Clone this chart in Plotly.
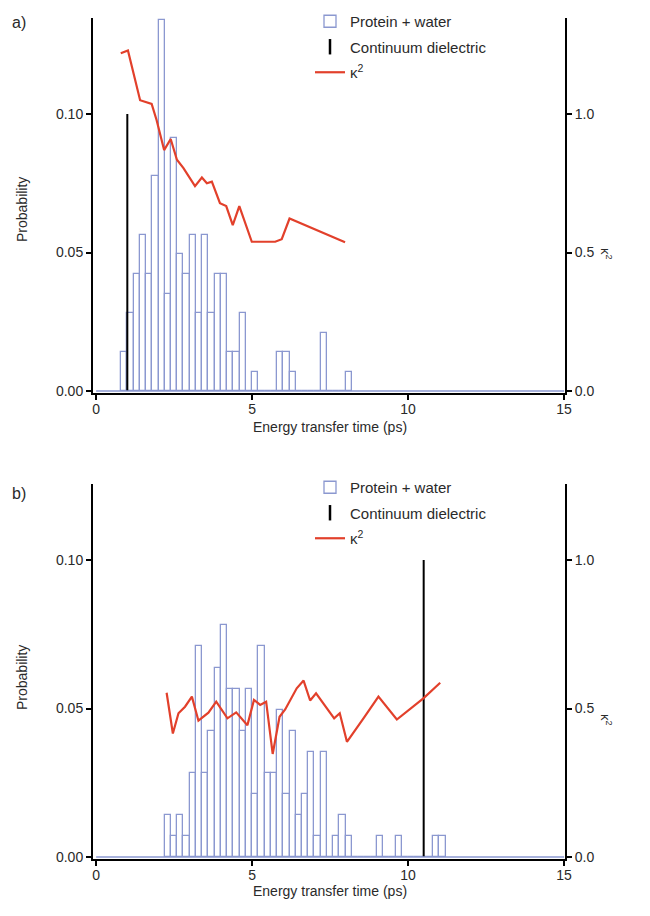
import plotly.graph_objects as go

# ---------------- data ----------------
# panel a: histogram (0.2 ps bins, left edges) and probabilities
bins_a = [0.8, 1.0, 1.2, 1.4, 1.6, 1.8, 2.0, 2.2, 2.4, 2.6, 2.8, 3.0, 3.2, 3.4, 3.6, 3.8,
          4.0, 4.2, 4.4, 4.6, 4.8, 5.0, 5.2, 5.4, 5.6, 5.8, 6.0, 6.2, 6.4, 6.6, 6.8, 7.0,
          7.2, 7.4, 7.6, 7.8, 8.0]
prob_a = [0.0141, 0.0282, 0.0423, 0.0563, 0.0423, 0.0775, 0.1340, 0.0352, 0.0915, 0.0493,
          0.0423, 0.0563, 0.0282, 0.0563, 0.0282, 0.0423, 0.0423, 0.0141, 0.0141, 0.0282,
          0.0, 0.0070, 0.0, 0.0, 0.0, 0.0141, 0.0141, 0.0070, 0.0, 0.0, 0.0, 0.0,
          0.0211, 0.0, 0.0, 0.0, 0.0070]
cont_a_x = 1.0
cont_a_p = 0.10
kappa_a_x = [0.79, 1.02, 1.41, 1.78, 1.94, 2.18, 2.39, 2.59, 2.80, 3.17, 3.39, 3.55, 3.71,
             3.97, 4.17, 4.38, 4.59, 4.99, 5.74, 5.95, 6.20, 7.98]
kappa_a = [1.22, 1.23, 1.05, 1.037, 0.978, 0.87, 0.91, 0.835, 0.805, 0.74, 0.771, 0.75,
           0.756, 0.678, 0.668, 0.599, 0.668, 0.539, 0.539, 0.548, 0.623, 0.537]

# panel b
bins_b = [2.2, 2.4, 2.6, 2.8, 3.0, 3.2, 3.4, 3.6, 3.8, 4.0, 4.2, 4.4, 4.6, 4.8, 5.0, 5.2,
          5.4, 5.6, 5.8, 6.0, 6.2, 6.4, 6.6, 6.8, 7.0, 7.2, 7.4, 7.6, 7.8, 8.0, 8.2, 8.4,
          8.6, 8.8, 9.0, 9.2, 9.4, 9.6, 9.8, 10.0, 10.2, 10.4, 10.6, 10.8, 11.0]
prob_b = [0.0142, 0.0071, 0.0142, 0.0071, 0.0284, 0.0709, 0.0284, 0.0426, 0.0638, 0.0780,
          0.0567, 0.0567, 0.0426, 0.0567, 0.0213, 0.0709, 0.0284, 0.0284, 0.0496, 0.0213,
          0.0426, 0.0142, 0.0213, 0.0355, 0.0071, 0.0355, 0.0, 0.0071, 0.0142, 0.0071,
          0.0, 0.0, 0.0, 0.0, 0.0071, 0.0, 0.0, 0.0071, 0.0, 0.0, 0.0, 0.0, 0.0, 0.0071, 0.0071]
cont_b_x = 10.5
cont_b_p = 0.10
kappa_b_x = [2.26, 2.46, 2.64, 2.85, 3.07, 3.28, 3.60, 3.85, 4.21, 4.49, 4.85, 5.06, 5.26,
             5.45, 5.66, 5.88, 6.06, 6.43, 6.65, 6.86, 7.05, 7.63, 7.81, 8.04, 8.57, 9.05,
             9.64, 10.49, 11.03]
kappa_b = [0.553, 0.416, 0.484, 0.506, 0.540, 0.459, 0.486, 0.523, 0.467, 0.487, 0.444,
           0.529, 0.512, 0.523, 0.347, 0.472, 0.497, 0.568, 0.594, 0.527, 0.551, 0.467,
           0.484, 0.388, 0.467, 0.540, 0.463, 0.534, 0.587]

x_ticks = [0, 5, 10, 15]
p_ticks = [0.0, 0.05, 0.10]
k_ticks = [0.0, 0.5, 1.0]
bin_w = 0.2
x_max = 15

# ---------------- style ----------------
HIST = "#8b98d0"
RED = "#e2402b"
FONT = "Liberation Sans, Arial, sans-serif"
TXT = "#2a2a2a"

fig = go.Figure()

def add_panel(xa, ya, yk, legend, bins, probs, cx, cp, kx, kv):
    centers = [b + bin_w / 2 for b in bins]
    fig.add_trace(go.Bar(x=centers, y=probs, width=bin_w, xaxis=xa, yaxis=ya,
                         marker=dict(color="rgba(255,255,255,0)", line=dict(color=HIST, width=1.3)),
                         name="Protein + water", legend=legend, legendgroup="g1", showlegend=True))
    fig.add_trace(go.Scatter(x=[cx, cx], y=[0, cp], mode="lines", xaxis=xa, yaxis=ya,
                             line=dict(color="black", width=2), showlegend=False))
    fig.add_trace(go.Scatter(x=[None], y=[None], mode="markers", xaxis=xa, yaxis=ya,
                             marker=dict(symbol="line-ns", size=11, line=dict(color="black", width=2.5)),
                             name="Continuum dielectric", legend=legend, legendgroup="g2",
                             showlegend=True))
    fig.add_trace(go.Scatter(x=kx, y=kv, mode="lines", xaxis=xa, yaxis=yk,
                             line=dict(color=RED, width=2.2),
                             name="κ<sup>2</sup>", legend=legend, legendgroup="g3", showlegend=True))

add_panel("x", "y", "y3", "legend", bins_a, prob_a, cont_a_x, cont_a_p, kappa_a_x, kappa_a)
add_panel("x2", "y2", "y4", "legend2", bins_b, prob_b, cont_b_x, cont_b_p, kappa_b_x, kappa_b)

# pixel geometry (page pixels; body margin removed in post_script)
L, R, T, B = 93, 565, 18, 859
H = B - T
dom_a = [(B - 393) / H, 1.0]
dom_b = [0.0, (B - 484) / H]

ax_common = dict(showline=True, linecolor="black", linewidth=2, ticks="outside", ticklen=5,
                 tickwidth=1.5, tickcolor="black", showgrid=False, zeroline=False,
                 tickfont=dict(family=FONT, size=14, color=TXT))

xr = [-0.1, 15.03]
leg_common = dict(xanchor="left", yanchor="top", bgcolor="rgba(0,0,0,0)",
                  font=dict(family=FONT, size=15, color=TXT), itemwidth=30,
                  tracegroupgap=3, traceorder="grouped")
fig.update_layout(
    width=650, height=916,
    margin=dict(l=L, r=650 - R, t=T, b=916 - B, autoexpand=False),
    paper_bgcolor="white", plot_bgcolor="white",
    font=dict(family=FONT, size=14, color=TXT),
    bargap=0,
    xaxis=dict(domain=[0, 1], anchor="y", range=xr, tickvals=x_ticks,
               ticklabelstandoff=-3, **ax_common),
    xaxis2=dict(domain=[0, 1], anchor="y2", range=xr, tickvals=x_ticks,
                ticklabelstandoff=-3, **ax_common),
    yaxis=dict(domain=dom_a, anchor="x", range=[-0.00072, 0.1347], tickvals=p_ticks,
               tickformat=".2f", **ax_common),
    yaxis2=dict(domain=dom_b, anchor="x2", range=[-0.00067, 0.1256], tickvals=p_ticks,
                tickformat=".2f", **ax_common),
    yaxis3=dict(overlaying="y", side="right", anchor="x", range=[-0.0072, 1.347],
                tickvals=k_ticks, tickformat=".1f", **ax_common),
    yaxis4=dict(overlaying="y2", side="right", anchor="x2", range=[-0.0067, 1.256],
                tickvals=k_ticks, tickformat=".1f", **ax_common),
    legend=dict(x=(310 - L) / (R - L), y=(B - 5) / H, **leg_common),
    legend2=dict(x=(310 - L) / (R - L), y=(B - 471) / H, **leg_common),
)

# histogram baselines across full range
for xa, ya in (("x", "y"), ("x2", "y2")):
    fig.add_shape(type="line", xref=xa, yref=ya, x0=0, x1=x_max, y0=0, y1=0,
                  line=dict(color=HIST, width=1.3))

def px_x(p):
    return (p - L) / (R - L)

def px_y(p):
    return (B - p) / H

ann = [
    dict(text="a)", x=px_x(10), y=px_y(22), xanchor="left", font_size=16),
    dict(text="b)", x=px_x(10), y=px_y(493), xanchor="left", font_size=16),
    dict(text="Probability", x=px_x(22), y=px_y(210), textangle=-90, font_size=14),
    dict(text="Probability", x=px_x(22), y=px_y(678), textangle=-90, font_size=14),
    dict(text="Energy transfer time (ps)", x=px_x(330), y=px_y(427), font_size=14),
    dict(text="Energy transfer time (ps)", x=px_x(330), y=px_y(891), font_size=14),
    dict(text="κ<sup>2</sup>", x=px_x(606), y=px_y(254), textangle=90, font_size=13),
    dict(text="κ<sup>2</sup>", x=px_x(606), y=px_y(720), textangle=90, font_size=13),
]
for a in ann:
    fs = a.pop("font_size")
    a.setdefault("xanchor", "center")
    fig.add_annotation(xref="paper", yref="paper", showarrow=False, yanchor="middle",
                       font=dict(family=FONT, size=fs, color=TXT), **a)

fig.write_html("out.html", config={"displayModeBar": False},
               post_script="document.body.style.margin='0';document.body.style.overflow='hidden';")
